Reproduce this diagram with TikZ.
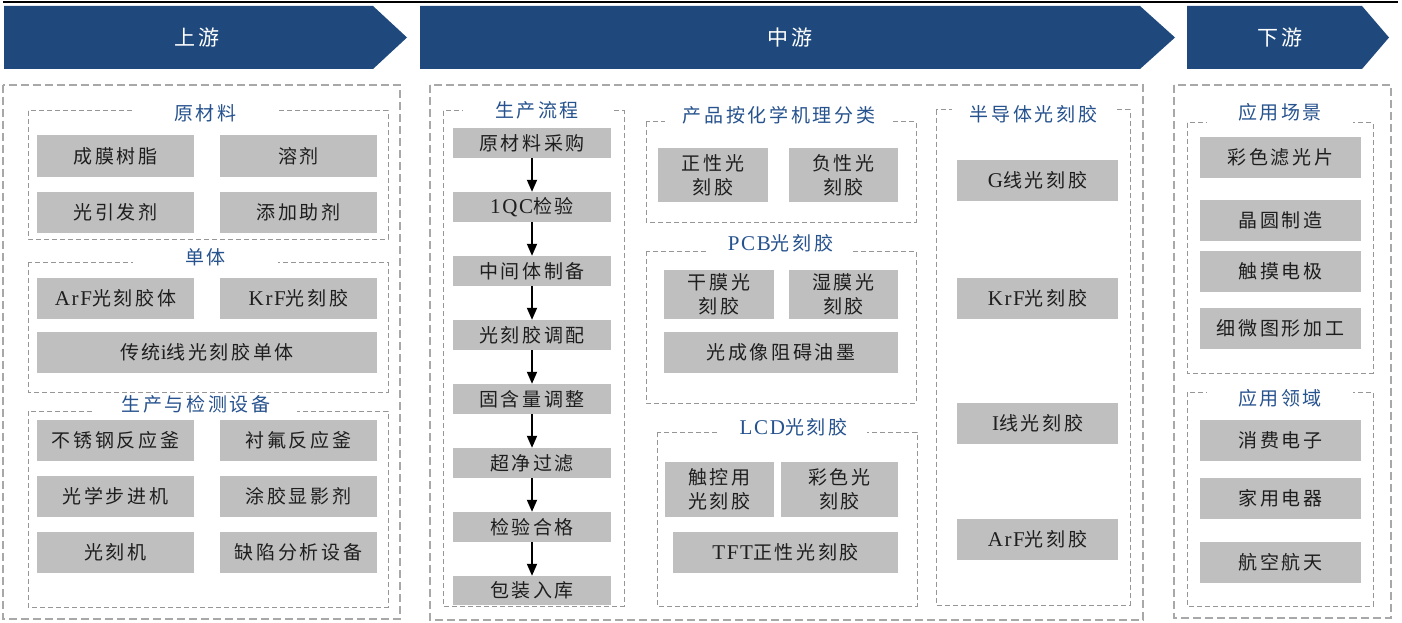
\documentclass[tikz,border=0pt]{standalone}
\usepackage{fontspec}
\setmainfont{Liberation Serif}[LetterSpace=8]
\newfontfamily\cjk{Noto Sans CJK SC}[LetterSpace=14]
\usetikzlibrary{arrows.meta}
\definecolor{bannerblue}{RGB}{31,73,125}
\definecolor{titleblue}{RGB}{38,82,142}
\definecolor{boxgray}{RGB}{191,191,191}
\definecolor{outergray}{RGB}{168,168,168}
\definecolor{innergray}{RGB}{150,150,150}
\definecolor{boxtext}{RGB}{30,30,30}
\newcommand\lat[1]{{\rmfamily\fontsize{21}{24}\selectfont #1}}
\tikzset{
  gbox/.style={fill=boxgray, inner sep=0pt, align=center, text=boxtext,
    font=\cjk\fontsize{19}{24}\selectfont},
  outerpanel/.style={draw=outergray, line width=2pt, dash pattern=on 8pt off 4pt},
  innerpanel/.style={draw=innergray, line width=1pt, dash pattern=on 5pt off 3pt},
  grouptitle/.style={fill=white, inner sep=0pt, minimum height=20pt, text=titleblue,
    font=\cjk\fontsize{19}{22}\selectfont},
  bannerfill/.style={fill=bannerblue},
  bannertext/.style={text=white, inner sep=0pt, font=\cjk\fontsize{21}{24}\selectfont},
  flowarrow/.style={-{Triangle[length=12pt,width=10pt]}, line width=1.8pt, black},
}
% name, x1, y1, x2, y2, text
\newcommand\mkbox[6]{\node[gbox, minimum width={(#4)-(#2)}, minimum height={(#5)-(#3)}]
  (#1) at ({((#2)+(#4))/2},{((#3)+(#5))/2}) {#6};}
% [options] name, y, gap x1, gap x2, text
\newcommand\mktitle[6][]{\node[grouptitle, minimum width={(#5)-(#4)}, #1]
  (#2) at ({((#4)+(#5))/2},#3) {#6};}
\begin{document}
\begin{tikzpicture}[x=1pt,y=-1pt]
\useasboundingbox (0,0) rectangle (1402,623);
% top rule
\draw[line width=2pt] (3,2) -- (1398,2);
% banners
\fill[bannerfill] (4,6) -- (373,6) -- (407,37.5) -- (373,69) -- (4,69) -- cycle;
\fill[bannerfill] (420,6) -- (1140,6) -- (1175,37.5) -- (1140,69) -- (420,69) -- cycle;
\fill[bannerfill] (1187,6) -- (1362,6) -- (1389,37.5) -- (1362,69) -- (1187,69) -- cycle;
\node[bannertext] (up) at (197,38) {上游};
\node[bannertext] (mid) at (790,38) {中游};
\node[bannertext] (down) at (1280,38) {下游};
% outer panels
\draw[outerpanel] (3,85) rectangle (400,619);
\draw[outerpanel] (430,85) rectangle (1143,620);
\draw[outerpanel] (1174,85) rectangle (1391,618);
% inner panels
\draw[innerpanel] (28,111) rectangle (388,239);
\draw[innerpanel] (28,262) rectangle (388,392);
\draw[innerpanel] (28,411) rectangle (388,607);
\draw[innerpanel] (443,111) rectangle (624,606);
\draw[innerpanel] (646,122) rectangle (916,222);
\draw[innerpanel] (646,251) rectangle (916,403);
\draw[innerpanel] (657,432) rectangle (917,606);
\draw[innerpanel] (936,110) rectangle (1130,605);
\draw[innerpanel] (1187,123) rectangle (1373,373);
\draw[innerpanel] (1187,392) rectangle (1373,606);
% group titles
\mktitle{tRaw}{113}{133}{278}{原材料}
\mktitle{tMono}{257}{133}{278}{单体}
\mktitle{tEquip}{404}{95}{297}{生产与检测设备}
\mktitle{tFlow}{110}{463}{611}{生产流程}
\mktitle{tChem}{115}{665}{893}{产品按化学机理分类}
\mktitle{tPCB}{243}{708}{853}{\lat{PCB}光刻胶}
\mktitle{tLCD}{427}{720}{867}{\lat{LCD}光刻胶}
\mktitle{tSemi}{114}{952}{1115}{半导体光刻胶}
\mktitle[minimum height=26pt]{tScene}{112}{1207}{1353}{应用场景}
\mktitle{tField}{398}{1207}{1353}{应用领域}
% upstream boxes
\mkbox{rm1}{37}{135}{194}{177}{成膜树脂}
\mkbox{rm2}{220}{135}{377}{177}{溶剂}
\mkbox{rm3}{37}{192}{194}{233}{光引发剂}
\mkbox{rm4}{220}{192}{377}{233}{添加助剂}
\mkbox{mo1}{37}{278}{194}{319}{\lat{ArF}光刻胶体}
\mkbox{mo2}{220}{278}{377}{319}{\lat{KrF}光刻胶}
\mkbox{mo3}{37}{332}{377}{373}{传统\lat{i}线光刻胶单体}
\mkbox{eq1}{37}{420}{194}{461}{不锈钢反应釜}
\mkbox{eq2}{220}{420}{377}{461}{衬氟反应釜}
\mkbox{eq3}{37}{476}{194}{517}{光学步进机}
\mkbox{eq4}{220}{476}{377}{517}{涂胶显影剂}
\mkbox{eq5}{37}{532}{194}{573}{光刻机}
\mkbox{eq6}{220}{532}{377}{573}{缺陷分析设备}
% production flow
\mkbox{f1}{453}{128}{611}{158}{原材料采购}
\mkbox{f2}{453}{192}{611}{222}{\lat{1QC}检验}
\mkbox{f3}{453}{256}{611}{286}{中间体制备}
\mkbox{f4}{453}{320}{611}{350}{光刻胶调配}
\mkbox{f5}{453}{384}{611}{414}{固含量调整}
\mkbox{f6}{453}{448}{611}{478}{超净过滤}
\mkbox{f7}{453}{512}{611}{542}{检验合格}
\mkbox{f8}{453}{576}{611}{605}{包装入库}
\foreach \a/\b in {f1/f2,f2/f3,f3/f4,f4/f5,f5/f6,f6/f7,f7/f8}
  \draw[flowarrow] (\a) -- (\b);
% chemistry classification
\mkbox{c1}{658}{148}{768}{202}{正性光\\刻胶}
\mkbox{c2}{789}{148}{898}{202}{负性光\\刻胶}
% PCB
\mkbox{p1}{664}{270}{774}{319}{干膜光\\刻胶}
\mkbox{p2}{789}{270}{898}{319}{湿膜光\\刻胶}
\mkbox{p3}{664}{332}{898}{373}{光成像阻碍油墨}
% LCD
\mkbox{l1}{665}{462}{774}{517}{触控用\\光刻胶}
\mkbox{l2}{781}{462}{898}{517}{彩色光\\刻胶}
\mkbox{l3}{673}{532}{898}{573}{\lat{TFT}正性光刻胶}
% semiconductor
\mkbox{s1}{957}{160}{1118}{201}{\lat{G}线光刻胶}
\mkbox{s2}{957}{278}{1118}{319}{\lat{KrF}光刻胶}
\mkbox{s3}{957}{403}{1118}{444}{\lat{I}线光刻胶}
\mkbox{s4}{957}{519}{1118}{560}{\lat{ArF}光刻胶}
% downstream
\mkbox{a1}{1200}{137}{1361}{178}{彩色滤光片}
\mkbox{a2}{1200}{200}{1361}{241}{晶圆制造}
\mkbox{a3}{1200}{251}{1361}{292}{触摸电极}
\mkbox{a4}{1200}{308}{1361}{349}{细微图形加工}
\mkbox{d1}{1200}{420}{1361}{461}{消费电子}
\mkbox{d2}{1200}{478}{1361}{519}{家用电器}
\mkbox{d3}{1200}{542}{1361}{583}{航空航天}
\end{tikzpicture}
\end{document}
